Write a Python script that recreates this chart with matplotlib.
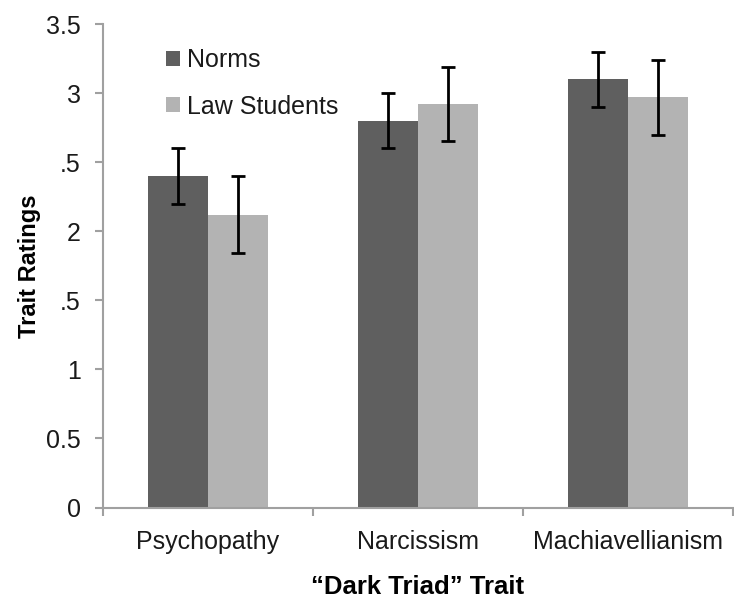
import matplotlib
matplotlib.use("Agg")
import matplotlib.pyplot as plt
import numpy as np

categories = ["Psychopathy", "Narcissism", "Machiavellianism"]
series_names = ["Norms", "Law Students"]
norms = [2.40, 2.80, 3.10]
norms_err = [0.20, 0.20, 0.20]
law = [2.12, 2.92, 2.97]
law_err = [0.28, 0.27, 0.27]
y_ticks = [0, 0.5, 1, 1.5, 2, 2.5, 3, 3.5]
y_tick_labels = ["0", "0.5", "1", ".5", "2", ".5", "3", "3.5"]

plt.rcParams['font.family'] = ['Liberation Sans', 'DejaVu Sans']

fig = plt.figure(figsize=(7.34, 6.03), dpi=100)
ax = fig.add_axes([103/734, (603-507.5)/603, 630/734, 483.5/603])

x = np.arange(len(categories)) + 0.5
w = 60/210
dark = "#5f5f5f"
light = "#b3b3b3"
ekw = dict(elinewidth=2, capthick=2, ecolor="black")
ax.bar(x - w/2, norms, w, color=dark, label=series_names[0],
       yerr=norms_err, capsize=5, error_kw=ekw, zorder=2)
ax.bar(x + w/2, law, w, color=light, label=series_names[1],
       yerr=law_err, capsize=5, error_kw=ekw, zorder=2)

ax.set_xlim(0, 3)
ax.set_ylim(0, 3.5)
ax.set_yticks(y_ticks)
ax.set_yticklabels(y_tick_labels)
ax.set_xticks([0, 1, 2, 3])
ax.set_xticklabels([])
ax.set_xticks(x, minor=True)
ax.set_xticklabels(categories, minor=True)
ax.tick_params(axis='x', which='minor', length=0, pad=16)
ax.tick_params(axis='x', which='major', length=6, width=1.5, color="#a0a0a0")
ax.tick_params(axis='y', length=6, width=1.5, color="#a0a0a0", pad=10)
ax.tick_params(axis='both', which='both', labelsize=18, labelcolor="#1a1a1a")

for s in ['top', 'right']:
    ax.spines[s].set_visible(False)
for s in ['left', 'bottom']:
    ax.spines[s].set_color("#a0a0a0")
    ax.spines[s].set_linewidth(1.5)

ax.set_ylabel("Trait Ratings", fontsize=17, fontweight='bold')
ax.yaxis.set_label_coords(-0.099, 0.5)
ax.set_xlabel("\u201cDark Triad\u201d Trait", fontsize=18.5, fontweight='bold')
ax.xaxis.set_label_coords(0.5, -0.14)

leg = ax.legend(loc='upper left', bbox_to_anchor=(0.1, 0.95), frameon=False,
                fontsize=18, handlelength=0.55, handleheight=0.55,
                handletextpad=0.3, labelspacing=0.9, borderpad=0, borderaxespad=0)
for t in leg.get_texts():
    t.set_color("#1a1a1a")

fig.savefig("out.png", dpi=100)
